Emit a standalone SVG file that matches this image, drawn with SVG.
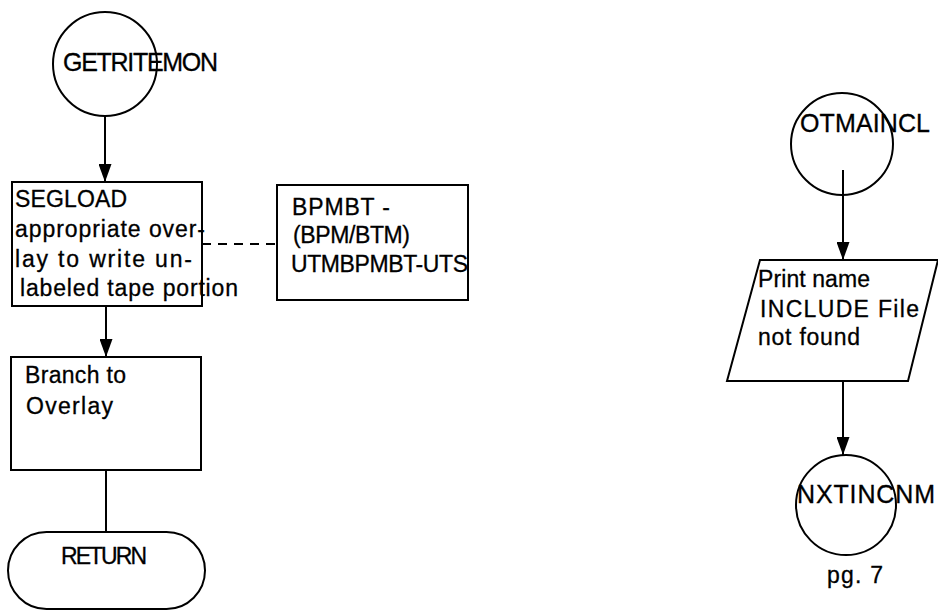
<svg xmlns="http://www.w3.org/2000/svg" width="938" height="610" viewBox="0 0 938 610">
<style>
.s{fill:none;stroke:#000;stroke-width:2}
.t{font-family:"Liberation Sans",Arial,sans-serif;font-size:23px;fill:#000;stroke:#000;stroke-width:0.3}
.c{font-size:25px}
</style>
<defs>
<marker id="a" markerWidth="18" markerHeight="13" refX="18" refY="6.5" orient="auto" markerUnits="userSpaceOnUse" viewBox="0 0 18 13">
<path d="M0,0 L18,6.5 L0,13 Z" fill="#000"/>
</marker>
</defs>
<g id="connectors">
<line class="s" x1="105" y1="117" x2="105" y2="182" marker-end="url(#a)"/>
<line class="s" x1="202" y1="244" x2="277" y2="244" stroke-dasharray="9,7"/>
<line class="s" x1="106" y1="306" x2="106" y2="357" marker-end="url(#a)"/>
<line class="s" x1="106" y1="470" x2="106" y2="532"/>
<line class="s" x1="843" y1="170" x2="843" y2="260" marker-end="url(#a)"/>
<line class="s" x1="843" y1="381" x2="843" y2="455" marker-end="url(#a)"/>
</g>
<g id="getritemon">
<circle class="s" cx="105" cy="64" r="52"/>
<text class="t c" x="63" y="71" textLength="155">GETRITEMON</text>
</g>
<g id="segload">
<rect class="s" x="12" y="182" width="190" height="124"/>
<text class="t" x="15" y="207" textLength="112">SEGLOAD</text>
<text class="t" x="15" y="237" textLength="190">appropriate over-</text>
<text class="t" x="15" y="267" textLength="177">lay to write un-</text>
<text class="t" x="20" y="296" textLength="218">labeled tape portion</text>
</g>
<g id="bpmbt">
<rect class="s" x="277" y="185" width="191" height="115"/>
<text class="t" x="292" y="215" textLength="98">BPMBT -</text>
<text class="t" x="293" y="243" textLength="117">(BPM/BTM)</text>
<text class="t" x="291" y="272" textLength="177">UTMBPMBT-UTS</text>
</g>
<g id="branch">
<rect class="s" x="11" y="357" width="190" height="113"/>
<text class="t" x="25" y="383" textLength="101">Branch to</text>
<text class="t" x="26" y="414" textLength="87">Overlay</text>
</g>
<g id="return">
<rect class="s" x="8" y="532" width="197" height="77" rx="38.5" ry="38.5"/>
<text class="t" x="61" y="564" textLength="86">RETURN</text>
</g>
<g id="otmaincl">
<circle class="s" cx="842" cy="144" r="51"/>
<text class="t c" x="800" y="132" textLength="130">OTMAINCL</text>
</g>
<g id="printname">
<polygon class="s" points="760,260 938,260 908,381 727,381"/>
<text class="t" x="758" y="287" textLength="112">Print name</text>
<text class="t" x="760" y="317" textLength="159">INCLUDE File</text>
<text class="t" x="758" y="345" textLength="102">not found</text>
</g>
<g id="nxtincnm">
<circle class="s" cx="846" cy="505" r="50"/>
<text class="t c" x="797" y="503" textLength="138">NXTINCNM</text>
<text class="t" x="827" y="583" textLength="56">pg. 7</text>
</g>
</svg>
